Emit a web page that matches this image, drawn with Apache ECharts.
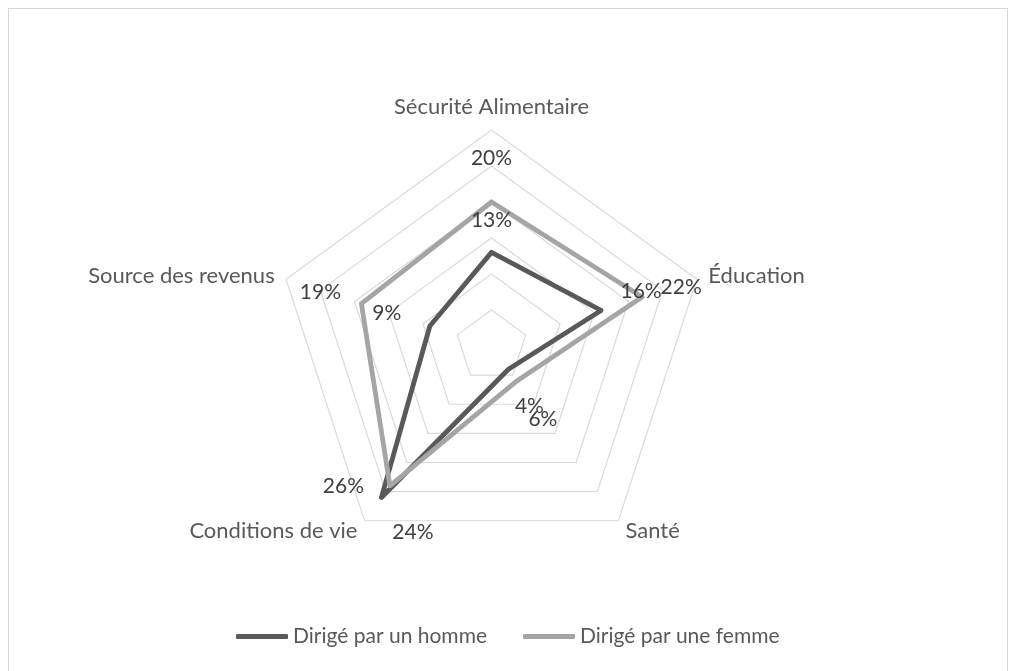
<!DOCTYPE html>
<html>
<head>
<meta charset="utf-8">
<script src="https://cdn.jsdelivr.net/npm/echarts@6/dist/echarts.min.js"></script>
<style>
  html, body { margin: 0; padding: 0; background: #ffffff; }
  #frame { position: absolute; left: 8px; top: 8px; width: 1000px; height: 680px; border: 1px solid #d9d9d9; box-sizing: border-box; }
  #chart { position: absolute; left: 0; top: 0; width: 1019px; height: 671px; }
</style>
</head>
<body>
<div id="frame"></div>
<div id="chart"></div>
<script>
// ---- data (clockwise order, starting at the top) ----
const categories = ['Sécurité Alimentaire', 'Éducation', 'Santé', 'Conditions de vie', 'Source des revenus'];
const seriesNames = ['Dirigé par un homme', 'Dirigé par une femme'];
const hommeValues = [13, 16, 4, 26, 9];
const femmeValues = [20, 22, 6, 24, 19];
const axisMax = 30;
const axisSplits = 6;

// ---- styling (label offsets in px from each vertex, per series, same order as categories) ----
const hommeLabelOffsets = [[0, -32], [40, -19], [21, 37], [-38, -11], [-43, -13]];
const femmeLabelOffsets = [[0, -44], [39, -10], [26, 38], [23, 46], [-41, -11]];

const FONT = 'Lato';
const chart = echarts.init(document.getElementById('chart'), null, { renderer: 'canvas' });

// ECharts lays radar indicators counter-clockwise; Excel goes clockwise.
// Build a reordered view: first item stays on top, the rest reversed.
const order = [0].concat(categories.map(function (_, i) { return i; }).slice(1).reverse());
function reorder(arr) { return order.map(function (i) { return arr[i]; }); }

function makeLayout(values, offsets) {
  return function (params) {
    const v = parseFloat(params.text);
    const i = values.indexOf(v);
    const off = offsets[i] || [0, 0];
    const r = params.rect;
    return {
      x: r.x + r.width / 2 + off[0],
      y: r.y + r.height / 2 + off[1],
      align: 'center',
      verticalAlign: 'middle'
    };
  };
}

function makeSeries(name, values, color, offsets) {
  return {
    type: 'radar',
    name: name,
    symbol: 'circle',
    symbolSize: 4,
    itemStyle: { color: color },
    lineStyle: { color: color, width: 4.8, join: 'round', cap: 'round' },
    label: {
      show: true,
      position: 'inside',
      formatter: function (p) { return p.value + '%'; },
      color: '#404040',
      fontFamily: FONT,
      fontSize: 21
    },
    labelLayout: makeLayout(values, offsets),
    data: [{ name: name, value: reorder(values) }]
  };
}

const option = {
  animation: false,
  backgroundColor: 'transparent',
  color: ['#595959', '#a5a5a5'],
  legend: {
    data: seriesNames,
    left: 231,
    top: 621,
    icon: 'roundRect',
    itemWidth: 52,
    itemHeight: 5,
    itemGap: 36,
    textStyle: { color: '#595959', fontFamily: FONT, fontSize: 21 }
  },
  radar: {
    center: [491.5, 346],
    radius: 216,
    startAngle: 90,
    shape: 'polygon',
    splitNumber: axisSplits,
    indicator: reorder(categories).map(function (c) { return { name: c, min: 0, max: axisMax }; }),
    axisName: { color: '#595959', fontFamily: FONT, fontSize: 22 },
    nameGap: 12,
    axisLine: { show: false },
    axisTick: { show: false },
    axisLabel: { show: false },
    splitLine: { lineStyle: { color: '#d9d9d9', width: 1.2 } },
    splitArea: { show: false }
  },
  series: [
    makeSeries(seriesNames[0], hommeValues, '#595959', hommeLabelOffsets),
    makeSeries(seriesNames[1], femmeValues, '#a5a5a5', femmeLabelOffsets)
  ]
};
chart.setOption(option);
</script>
</body>
</html>
